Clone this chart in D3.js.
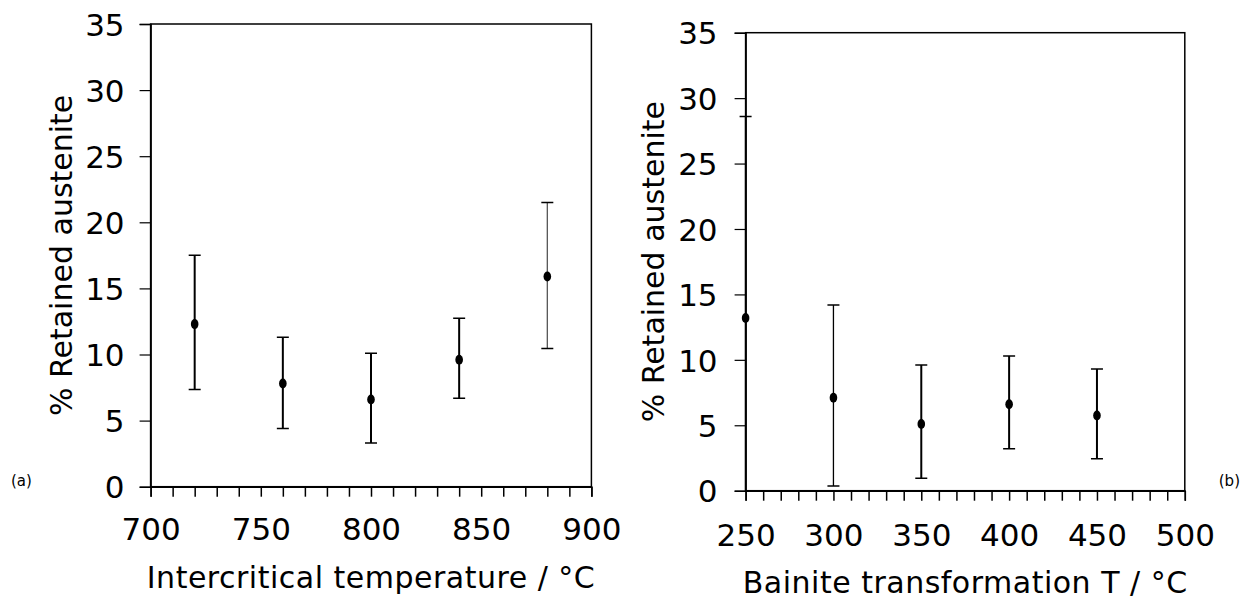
<!DOCTYPE html>
<html><head><meta charset="utf-8">
<script src="https://cdn.jsdelivr.net/npm/d3@7"></script>
<style>body{margin:0;background:#fff}svg{display:block}text{font-family:"DejaVu Sans",Verdana,sans-serif;fill:#000}</style>
</head><body>
<svg id="c" width="1241" height="600"></svg>
<script>
const leftX = [720, 760, 800, 840, 880];
const leftY = [12.3, 7.8, 6.6, 9.6, 15.9];
const leftLow = [7.35, 4.4, 3.3, 6.7, 10.45];
const leftHigh = [17.5, 11.3, 10.1, 12.75, 21.5];
const rightX = [250, 300, 350, 400, 450];
const rightY = [13.2, 7.1, 5.1, 6.6, 5.75];
const rightLow = [-2.2, 0.35, 0.95, 3.2, 2.45];
const rightHigh = [28.6, 14.2, 9.6, 10.3, 9.3];
const yTicks = [0, 5, 10, 15, 20, 25, 30, 35];
const leftXTicks = [700, 750, 800, 850, 900];
const rightXTicks = [250, 300, 350, 400, 450, 500];

const svg = d3.select("#c");

function panel(o) {
  const x = d3.scaleLinear().domain(o.xDom).range([o.x0, o.x1]);
  const y = d3.scaleLinear().domain([0, 35]).range([o.y0, o.y1]);
  const g = svg.append("g");
  const cid = "clip" + o.id;
  svg.append("clipPath").attr("id", cid).append("rect")
    .attr("x", o.x0 - 10).attr("y", o.y1 - 5).attr("width", o.x1 - o.x0 + 20).attr("height", o.y0 - o.y1 + 5);
  g.append("rect").attr("x", o.x0).attr("y", o.y1).attr("width", o.x1 - o.x0).attr("height", o.y0 - o.y1)
    .attr("fill", "none").attr("stroke", "#000").attr("stroke-width", 1.5);
  const ya = g.append("g").attr("transform", `translate(${o.x0},0)`)
    .call(d3.axisLeft(y).tickValues(yTicks).tickSize(11).tickPadding(o.yPad));
  ya.select(".domain").attr("stroke-width", 1.5);
  ya.selectAll(".tick line").attr("stroke-width", 1.2);
  ya.selectAll("text").style("font-size", "31px").attr("font-family", null).attr("dy", "0.36em");
  const minor = d3.range(o.xDom[0], o.xDom[1] + 1, 10);
  const xa = g.append("g").attr("transform", `translate(0,${o.y0})`)
    .call(d3.axisBottom(x).tickValues(minor).tickSize(10).tickFormat(""));
  xa.select(".domain").attr("stroke-width", 1.5);
  xa.selectAll(".tick line").attr("stroke-width", 1.5);
  const xl = g.append("g").attr("transform", `translate(0,${o.y0})`)
    .call(d3.axisBottom(x).tickValues(o.xTicks).tickSize(0).tickPadding(o.xPad));
  xl.select(".domain").remove();
  xl.selectAll("text").style("font-size", "31px").attr("font-family", null);
  const dg = g.append("g").attr("clip-path", `url(#${cid})`);
  o.xs.forEach((xv, i) => {
    const col = o.colors[i], w = o.widths[i];
    const cx = x(xv);
    dg.append("line").attr("x1", cx).attr("x2", cx).attr("y1", y(o.lo[i])).attr("y2", y(o.hi[i]))
      .attr("stroke", col).attr("stroke-width", w);
    [o.lo[i], o.hi[i]].forEach(v => {
      dg.append("line").attr("x1", cx - 6).attr("x2", cx + 6).attr("y1", y(v)).attr("y2", y(v))
        .attr("stroke", "#000").attr("stroke-width", 1.5);
    });
    dg.append("ellipse").attr("cx", cx).attr("cy", y(o.ys[i])).attr("rx", 3.8).attr("ry", 5).attr("fill", "#000");
  });
  g.append("text").attr("x", (o.x0 + o.x1) / 2).attr("y", o.xtY).attr("text-anchor", "middle")
    .style("font-size", "30px").style("letter-spacing", "0.5px").text(o.xTitle);
  g.append("text").attr("transform", `translate(${o.ytX},${(o.y0 + o.y1) / 2}) rotate(-90)`)
    .attr("text-anchor", "middle").style("font-size", "30px").text("% Retained austenite");
}

panel({id: "a", xDom: [700, 900], x0: 150.6, x1: 591.4, y0: 486.7, y1: 24, xs: leftX, ys: leftY, lo: leftLow, hi: leftHigh,
  colors: ["#000", "#000", "#000", "#000", "#555"], widths: [2, 2, 2, 2, 1.3],
  xTicks: leftXTicks, xPad: 31, yPad: 15, xTitle: "Intercritical temperature / °C", xtY: 588, ytX: 72});
panel({id: "b", xDom: [250, 500], x0: 745.6, x1: 1184.8, y0: 490.7, y1: 32.7, xs: rightX, ys: rightY, lo: rightLow, hi: rightHigh,
  colors: ["#000", "#000", "#000", "#000", "#000"], widths: [1.5, 1.3, 2, 2, 2],
  xTicks: rightXTicks, xPad: 33, yPad: 17, xTitle: "Bainite transformation T / °C", xtY: 593, ytX: 664});

svg.append("text").attr("x", 11).attr("y", 486).style("font-size", "15px").text("(a)");
svg.append("text").attr("x", 1240).attr("y", 486).attr("text-anchor", "end").style("font-size", "15px").text("(b)");
</script>
</body></html>
